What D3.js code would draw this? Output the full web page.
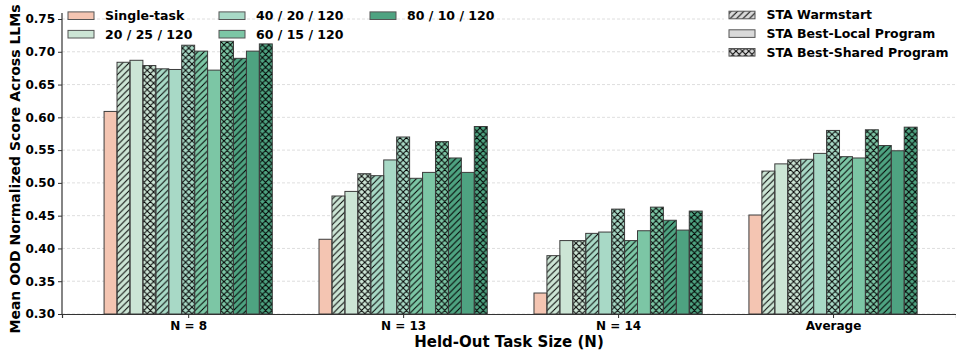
<!DOCTYPE html>
<html>
<head>
<meta charset="utf-8">
<script src="https://cdn.jsdelivr.net/npm/d3@7/dist/d3.min.js"></script>
<style>
  html, body { margin: 0; padding: 0; background: #fff; }
  svg { display: block; font-family: "DejaVu Sans", sans-serif; }
</style>
</head>
<body>
<svg id="chart" width="956" height="354"></svg>
<script>
// Held-out task sizes along the x axis
const groups = ["N = 8", "N = 13", "N = 14", "Average"];

// Single-task baseline
const singleTask = [0.609, 0.414, 0.332, 0.451];

// Shared-task configurations and their names
const configs = ["20 / 25 / 120", "40 / 20 / 120", "60 / 15 / 120", "80 / 10 / 120"];
const variants = ["STA Warmstart", "STA Best-Local Program", "STA Best-Shared Program"];

// Scores per configuration: [warmstart, best-local, best-shared] for each group
const cfg20_25 = [[0.684, 0.687, 0.679], [0.480, 0.487, 0.514], [0.389, 0.412, 0.412], [0.518, 0.529, 0.535]];
const cfg40_20 = [[0.674, 0.673, 0.710], [0.511, 0.535, 0.570], [0.423, 0.425, 0.460], [0.536, 0.545, 0.580]];
const cfg60_15 = [[0.701, 0.672, 0.716], [0.507, 0.516, 0.563], [0.412, 0.427, 0.463], [0.540, 0.538, 0.581]];
const cfg80_10 = [[0.690, 0.701, 0.712], [0.538, 0.516, 0.586], [0.443, 0.428, 0.457], [0.557, 0.549, 0.585]];

const yTicks = [0.30, 0.35, 0.40, 0.45, 0.50, 0.55, 0.60, 0.65, 0.70, 0.75];

const singleColor = "#f4c5b2";
const configColors = ["#cce5d5", "#a8d9c6", "#7cc6a5", "#4ea381"];
const variantHatch = ["diag", null, "cross"];

const svg = d3.select("#chart");
const plotL = 62, plotR = 956, plotT = 19, plotB = 314;

// Hatch patterns
const defs = svg.append("defs");
const hs = 6.4;
const diag = defs.append("pattern").attr("id", "diag")
  .attr("patternUnits", "userSpaceOnUse").attr("width", hs).attr("height", hs);
diag.append("path").attr("d", `M0,${hs} L${hs},0 M${-hs/2},${hs/2} L${hs/2},${-hs/2} M${hs/2},${hs*1.5} L${hs*1.5},${hs/2}`)
  .attr("stroke", "#000").attr("stroke-width", 1).attr("fill", "none");
const cross = defs.append("pattern").attr("id", "cross")
  .attr("patternUnits", "userSpaceOnUse").attr("width", hs).attr("height", hs);
cross.append("path").attr("d", `M0,${hs} L${hs},0 M0,0 L${hs},${hs} M${-hs/2},${hs/2} L${hs/2},${-hs/2} M${hs/2},${hs*1.5} L${hs*1.5},${hs/2} M${-hs/2},${hs/2} L${hs/2},${hs*1.5} M${hs/2},${-hs/2} L${hs*1.5},${hs/2}`)
  .attr("stroke", "#000").attr("stroke-width", 1).attr("fill", "none");

// Scales
const x = d3.scaleLinear().domain([-0.587, 3.572]).range([plotL, plotR]);
const y = d3.scaleLinear().domain([0.30, 0.75]).range([plotB, plotT]);
const barW = 0.0602;

// Grid
svg.append("g").selectAll("line").data(yTicks).join("line")
  .attr("x1", plotL).attr("x2", plotR)
  .attr("y1", d => y(d)).attr("y2", d => y(d))
  .attr("stroke", "#d6d6d6").attr("stroke-width", 0.8).attr("stroke-dasharray", "3,2");

// Flatten bars: slot 0 single-task, then config × variant
const bars = [];
groups.forEach((g, gi) => {
  bars.push({ gi, k: 0, v: singleTask[gi], color: singleColor, hatch: null });
  [cfg20_25, cfg40_20, cfg60_15, cfg80_10].forEach((cfg, ci) => {
    cfg[gi].forEach((v, vi) => {
      bars.push({ gi, k: 1 + ci * 3 + vi, v, color: configColors[ci], hatch: variantHatch[vi] });
    });
  });
});
const bx = d => x(d.gi + (d.k - 6) * barW - barW / 2);
const bw = x(barW) - x(0);

const gBars = svg.append("g");
gBars.selectAll("rect.fill").data(bars).join("rect").attr("class", "fill")
  .attr("x", bx).attr("width", bw)
  .attr("y", d => y(d.v)).attr("height", d => y(0.30) - y(d.v))
  .attr("fill", d => d.color);
gBars.selectAll("rect.hatch").data(bars.filter(d => d.hatch)).join("rect").attr("class", "hatch")
  .attr("x", bx).attr("width", bw)
  .attr("y", d => y(d.v)).attr("height", d => y(0.30) - y(d.v))
  .attr("fill", d => `url(#${d.hatch})`);
gBars.selectAll("rect.edge").data(bars).join("rect").attr("class", "edge")
  .attr("x", bx).attr("width", bw)
  .attr("y", d => y(d.v)).attr("height", d => y(0.30) - y(d.v))
  .attr("fill", "none").attr("stroke", "#3c3c3c").attr("stroke-width", 1);

// Axes
const yAxis = d3.axisLeft(y).tickValues(yTicks).tickFormat(d3.format(".2f")).tickSize(4).tickPadding(3);
const gy = svg.append("g").attr("transform", `translate(${plotL},0)`).call(yAxis);
const xAxis = d3.axisBottom(x).tickValues(groups.map((_, i) => i)).tickFormat(i => groups[i]).tickSize(4).tickPadding(3);
const gx = svg.append("g").attr("transform", `translate(0,${plotB})`).call(xAxis);
[gx, gy].forEach(g => {
  g.select(".domain").attr("stroke", "#333").attr("stroke-width", 1.2);
  g.selectAll(".tick line").attr("stroke", "#333").attr("stroke-width", 1);
  g.selectAll(".tick text").attr("fill", "#000").attr("font-size", 12).attr("font-weight", "bold")
    .attr("font-family", "DejaVu Sans");
});
gy.select(".domain").attr("d", `M0,${plotT - 6}V${plotB}`);

// Axis titles
svg.append("text").attr("x", (plotL + plotR) / 2).attr("y", 346.5)
  .attr("text-anchor", "middle").attr("font-size", 15).attr("font-weight", "bold")
  .text("Held-Out Task Size (N)");
svg.append("text").attr("transform", `translate(20,169) rotate(-90)`)
  .attr("text-anchor", "middle").attr("font-size", 14).attr("font-weight", "bold")
  .text("Mean OOD Normalized Score Across LLMs");

// Color legend
const colorItems = [
  { label: "Single-task", color: singleColor, col: 0, row: 0 },
  { label: configs[0], color: configColors[0], col: 0, row: 1 },
  { label: configs[1], color: configColors[1], col: 1, row: 0 },
  { label: configs[2], color: configColors[2], col: 1, row: 1 },
  { label: configs[3], color: configColors[3], col: 2, row: 0 }
];
const colX = [68, 219, 370], rowY = [15.7, 34.2];
const lg1 = svg.append("g");
colorItems.forEach(it => {
  lg1.append("rect").attr("x", colX[it.col]).attr("y", rowY[it.row] - 3.8).attr("width", 26).attr("height", 7.6)
    .attr("fill", it.color).attr("stroke", "#555").attr("stroke-width", 1);
  lg1.append("text").attr("x", colX[it.col] + 37).attr("y", rowY[it.row]).attr("dy", "0.35em")
    .attr("font-size", 12.5).attr("font-weight", "bold").text(it.label);
});

// Variant legend
const lg2 = svg.append("g");
lg2.append("rect").attr("x", 724).attr("y", 3).attr("width", 232).attr("height", 59).attr("fill", "#fff");
const vRowY = [15, 33.6, 52.3];
variants.forEach((v, i) => {
  lg2.append("rect").attr("x", 729).attr("y", vRowY[i] - 3.8).attr("width", 26).attr("height", 7.6)
    .attr("fill", "#d9d9d9");
  if (variantHatch[i]) {
    lg2.append("rect").attr("x", 729).attr("y", vRowY[i] - 3.8).attr("width", 26).attr("height", 7.6)
      .attr("fill", `url(#${variantHatch[i]})`);
  }
  lg2.append("rect").attr("x", 729).attr("y", vRowY[i] - 3.8).attr("width", 26).attr("height", 7.6)
    .attr("fill", "none").attr("stroke", "#555").attr("stroke-width", 1);
  lg2.append("text").attr("x", 766.5).attr("y", vRowY[i]).attr("dy", "0.35em")
    .attr("font-size", 12.5).attr("font-weight", "bold").text(v);
});
</script>
</body>
</html>
